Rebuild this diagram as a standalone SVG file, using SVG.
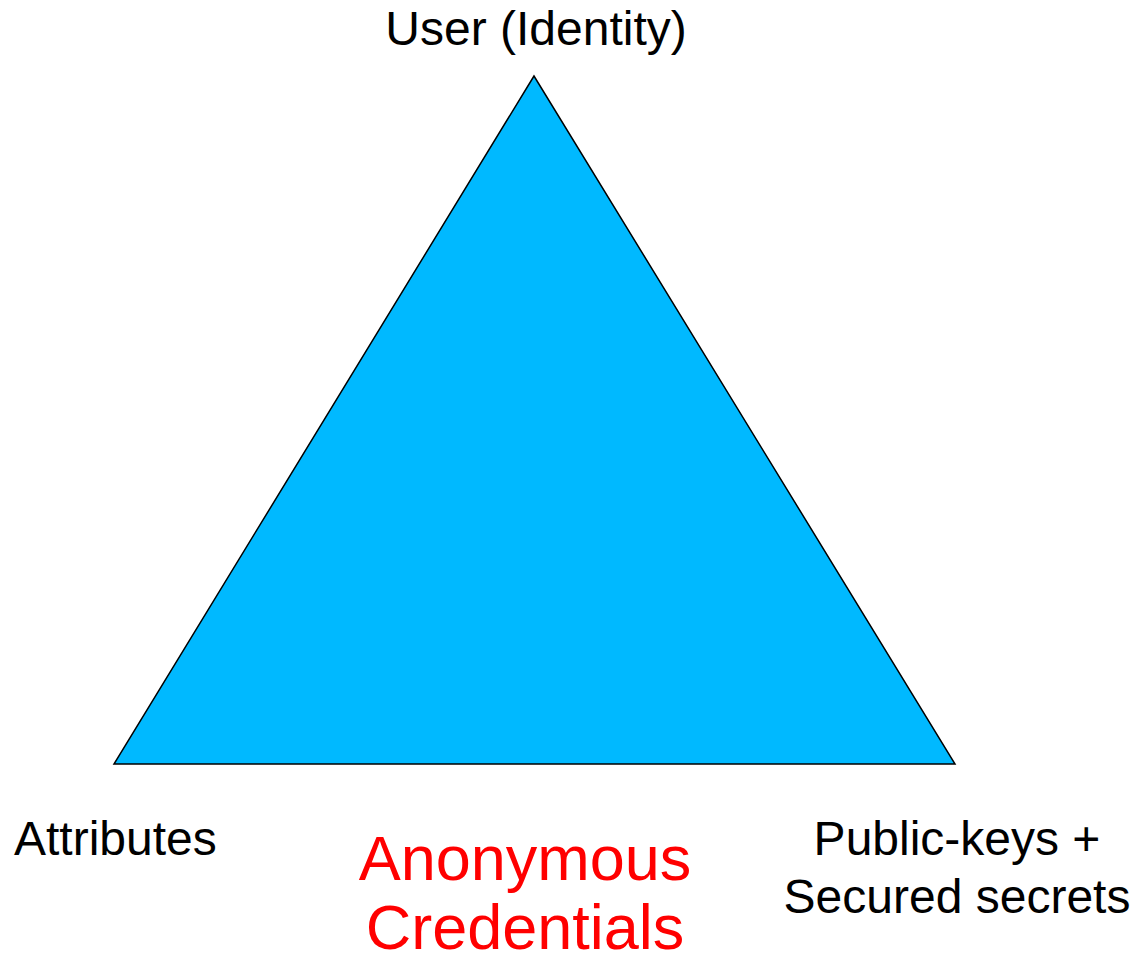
<svg xmlns="http://www.w3.org/2000/svg" width="1135" height="963" viewBox="0 0 1135 963">
<style>
.t{font-family:"Liberation Sans",Arial,sans-serif;font-size:48px;fill:#000}
.r{font-family:"Liberation Sans",Arial,sans-serif;font-size:63px;fill:#ff0000;text-anchor:middle}
</style>
<rect width="1135" height="963" fill="#fff"/>
<g id="triangle">
<polygon points="534,76 114,764 955,764" fill="#00b9ff" stroke="#000" stroke-width="1.5" stroke-linejoin="miter"/>
</g>
<g id="user"><text class="t" x="536" y="45" text-anchor="middle">User (Identity)</text></g>
<g id="attributes"><text class="t" x="14" y="855">Attributes</text></g>
<g id="keys"><text class="t" x="957" y="855" text-anchor="middle">Public-keys +</text><text class="t" x="957" y="913" text-anchor="middle">Secured secrets</text></g>
<g id="anon"><text class="r" x="525" y="880">Anonymous</text><text class="r" x="525" y="949">Credentials</text></g>
<g id="connectors"/>
</svg>
